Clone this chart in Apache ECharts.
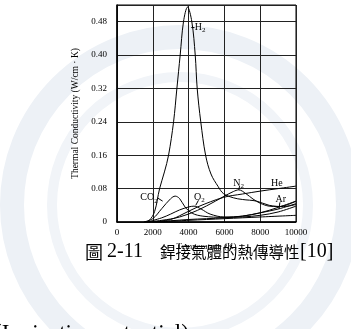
<!DOCTYPE html>
<html>
<head>
<meta charset="utf-8">
<script src="https://cdn.jsdelivr.net/npm/echarts@6/dist/echarts.min.js"></script>
<style>html,body{margin:0;padding:0;background:#fff;}#c{width:351px;height:329px;}</style>
</head>
<body>
<div id="c"></div>
<script>
// Temperature (K), thermal conductivity (W/cm·K)
const h2 = [[1500,0],[1800,0.004],[2100,0.025],[2380,0.08],[2650,0.12],[2880,0.16],[3160,0.24],[3345,0.32],[3530,0.40],[3715,0.48],[3940,0.515],[4180,0.48],[4370,0.40],[4480,0.32],[4680,0.24],[4950,0.16],[5250,0.115],[5650,0.085],[5950,0.068],[6500,0.058],[7000,0.054],[7800,0.05],[8500,0.04],[9300,0.037],[10000,0.042]];
const co2 = [[1500,0],[2000,0.008],[2500,0.032],[3000,0.056],[3250,0.062],[3500,0.056],[3800,0.036],[4200,0.021],[4800,0.014],[6000,0.011],[7000,0.012],[8000,0.016],[9000,0.024],[10000,0.038]];
const o2 = [[1700,0],[2500,0.01],[3000,0.019],[3500,0.029],[4000,0.036],[4300,0.038],[4700,0.031],[5200,0.019],[6000,0.012],[7000,0.014],[8000,0.022],[9000,0.035],[10000,0.05]];
const n2 = [[1600,0],[2500,0.004],[3500,0.012],[4500,0.028],[5500,0.05],[6000,0.062],[6500,0.073],[6800,0.077],[7200,0.068],[7600,0.055],[8000,0.045],[8500,0.038],[9000,0.037],[9500,0.041],[10000,0.05]];
const he = [[2000,0],[3000,0.006],[3500,0.015],[4500,0.036],[5950,0.059],[7000,0.067],[8000,0.074],[9000,0.08],[10000,0.086]];
const ar = [[1800,0],[3000,0.003],[4000,0.006],[5000,0.008],[6000,0.01],[7000,0.014],[8000,0.022],[9000,0.031],[10000,0.044]];
const ar2 = [[2200,0],[4000,0.004],[6000,0.008],[8000,0.012],[10000,0.016]];
const yTicks = ['0','0.08','0.16','0.24','0.32','0.40','0.48'];
const xTicks = ['0','2000','4000','6000','8000','10000'];
// annotation labels: [text, subscript, temperature, conductivity]
const notes = [['H','2',4350,0.466],['CO','2',1300,0.058],['O','2',4300,0.06],['N','2',6500,0.092],['He','',8600,0.092],['Ar','',8850,0.054]];

const chart = echarts.init(document.getElementById('c'), null, {renderer:'canvas'});
const serif = 'Liberation Serif, DejaVu Serif, serif';
const mk = (d) => ({type:'line', data:d, smooth:0.35, symbol:'none', lineStyle:{color:'#000', width:1}, silent:true});
const opt = {
  animation:false,
  grid:{left:117, right:55, top:5, bottom:107, show:true, borderColor:'#000', borderWidth:1},
  xAxis:{type:'value', min:0, max:10000, interval:2000,
    axisLine:{show:true, lineStyle:{color:'#000', width:1.5}}, axisTick:{show:false},
    splitLine:{show:true, lineStyle:{color:'#222', width:1}},
    axisLabel:{color:'#000', fontFamily:serif, fontSize:9, margin:6, formatter:(v)=>xTicks[v/2000]},
    name:'Temperature (K)', nameLocation:'middle', nameGap:19, nameTextStyle:{color:'#000', fontFamily:serif, fontSize:9}},
  yAxis:{type:'value', min:0, max:0.52, interval:0.08,
    axisLine:{show:true, lineStyle:{color:'#000', width:1.5}}, axisTick:{show:false},
    splitLine:{show:true, lineStyle:{color:'#222', width:1}},
    axisLabel:{color:'#000', fontFamily:serif, fontSize:9, margin:10, showMaxLabel:false,
      formatter:(v)=>{const i=Math.round(v/0.08); return Math.abs(i*0.08-v)<1e-6 && i<yTicks.length ? yTicks[i] : '';}},
    name:'Thermal Conductivity (W/cm · K)', nameLocation:'middle', nameGap:30, nameRotate:90,
    nameTextStyle:{color:'#000', fontFamily:serif, fontSize:9.5}},
  series:[mk(h2), mk(co2), mk(o2), mk(n2), mk(he), mk(ar), mk(ar2)]
};
chart.setOption(opt);

const g = [];
// faint watermark ring behind the chart
g.push({type:'circle', z:-10, silent:true, shape:{cx:180, cy:205, r:168}, style:{fill:'none', stroke:'#edf1f6', lineWidth:24}});
g.push({type:'circle', z:-10, silent:true, shape:{cx:180, cy:205, r:128}, style:{fill:'none', stroke:'#f1f4f8', lineWidth:10}});
notes.forEach(n => {
  const p = chart.convertToPixel({gridIndex:0}, [n[2], n[3]]);
  g.push({type:'text', x:p[0], y:p[1], style:{text: n[1] ? '{a|'+n[0]+'}{s|'+n[1]+'}' : '{a|'+n[0]+'}',
    rich:{a:{fontFamily:serif, fontSize:10, fill:'#000'}, s:{fontFamily:serif, fontSize:7, fill:'#000', padding:[6,0,0,0]}},
    verticalAlign:'middle', align:'left'}});
});
// leader ticks
const lead = [[[4150,0.466],[4330,0.466]],[[2250,0.058],[2550,0.05]],[[4550,0.052],[4400,0.04]],[[6850,0.086],[6800,0.077]],[[9100,0.047],[9050,0.031]]];
lead.forEach(s => {
  const a = chart.convertToPixel({gridIndex:0}, s[0]);
  const b = chart.convertToPixel({gridIndex:0}, s[1]);
  g.push({type:'line', shape:{x1:a[0],y1:a[1],x2:b[0],y2:b[1]}, style:{stroke:'#000', lineWidth:1}});
});
const cjk = 'Noto Sans CJK TC';
g.push({type:'text', x:85, y:252, style:{text:'圖', font:'18px "'+cjk+'"', fill:'#000', verticalAlign:'middle'}});
g.push({type:'text', x:107, y:252, style:{text:'2-11', font:'20px "Liberation Serif"', fill:'#000', verticalAlign:'middle'}});
g.push({type:'text', x:160, y:252, style:{text:'銲接氣體的熱傳導性', font:'15.5px "'+cjk+'"', fill:'#000', verticalAlign:'middle'}});
g.push({type:'text', x:300, y:252, style:{text:'[10]', font:'20px "Liberation Serif"', fill:'#000', verticalAlign:'middle'}});
g.push({type:'text', x:-6, y:322, style:{text:'(Ionization potential)', font:'23px "Liberation Serif"', fill:'#000', verticalAlign:'top'}});
chart.setOption({graphic:g});
</script>
</body>
</html>
